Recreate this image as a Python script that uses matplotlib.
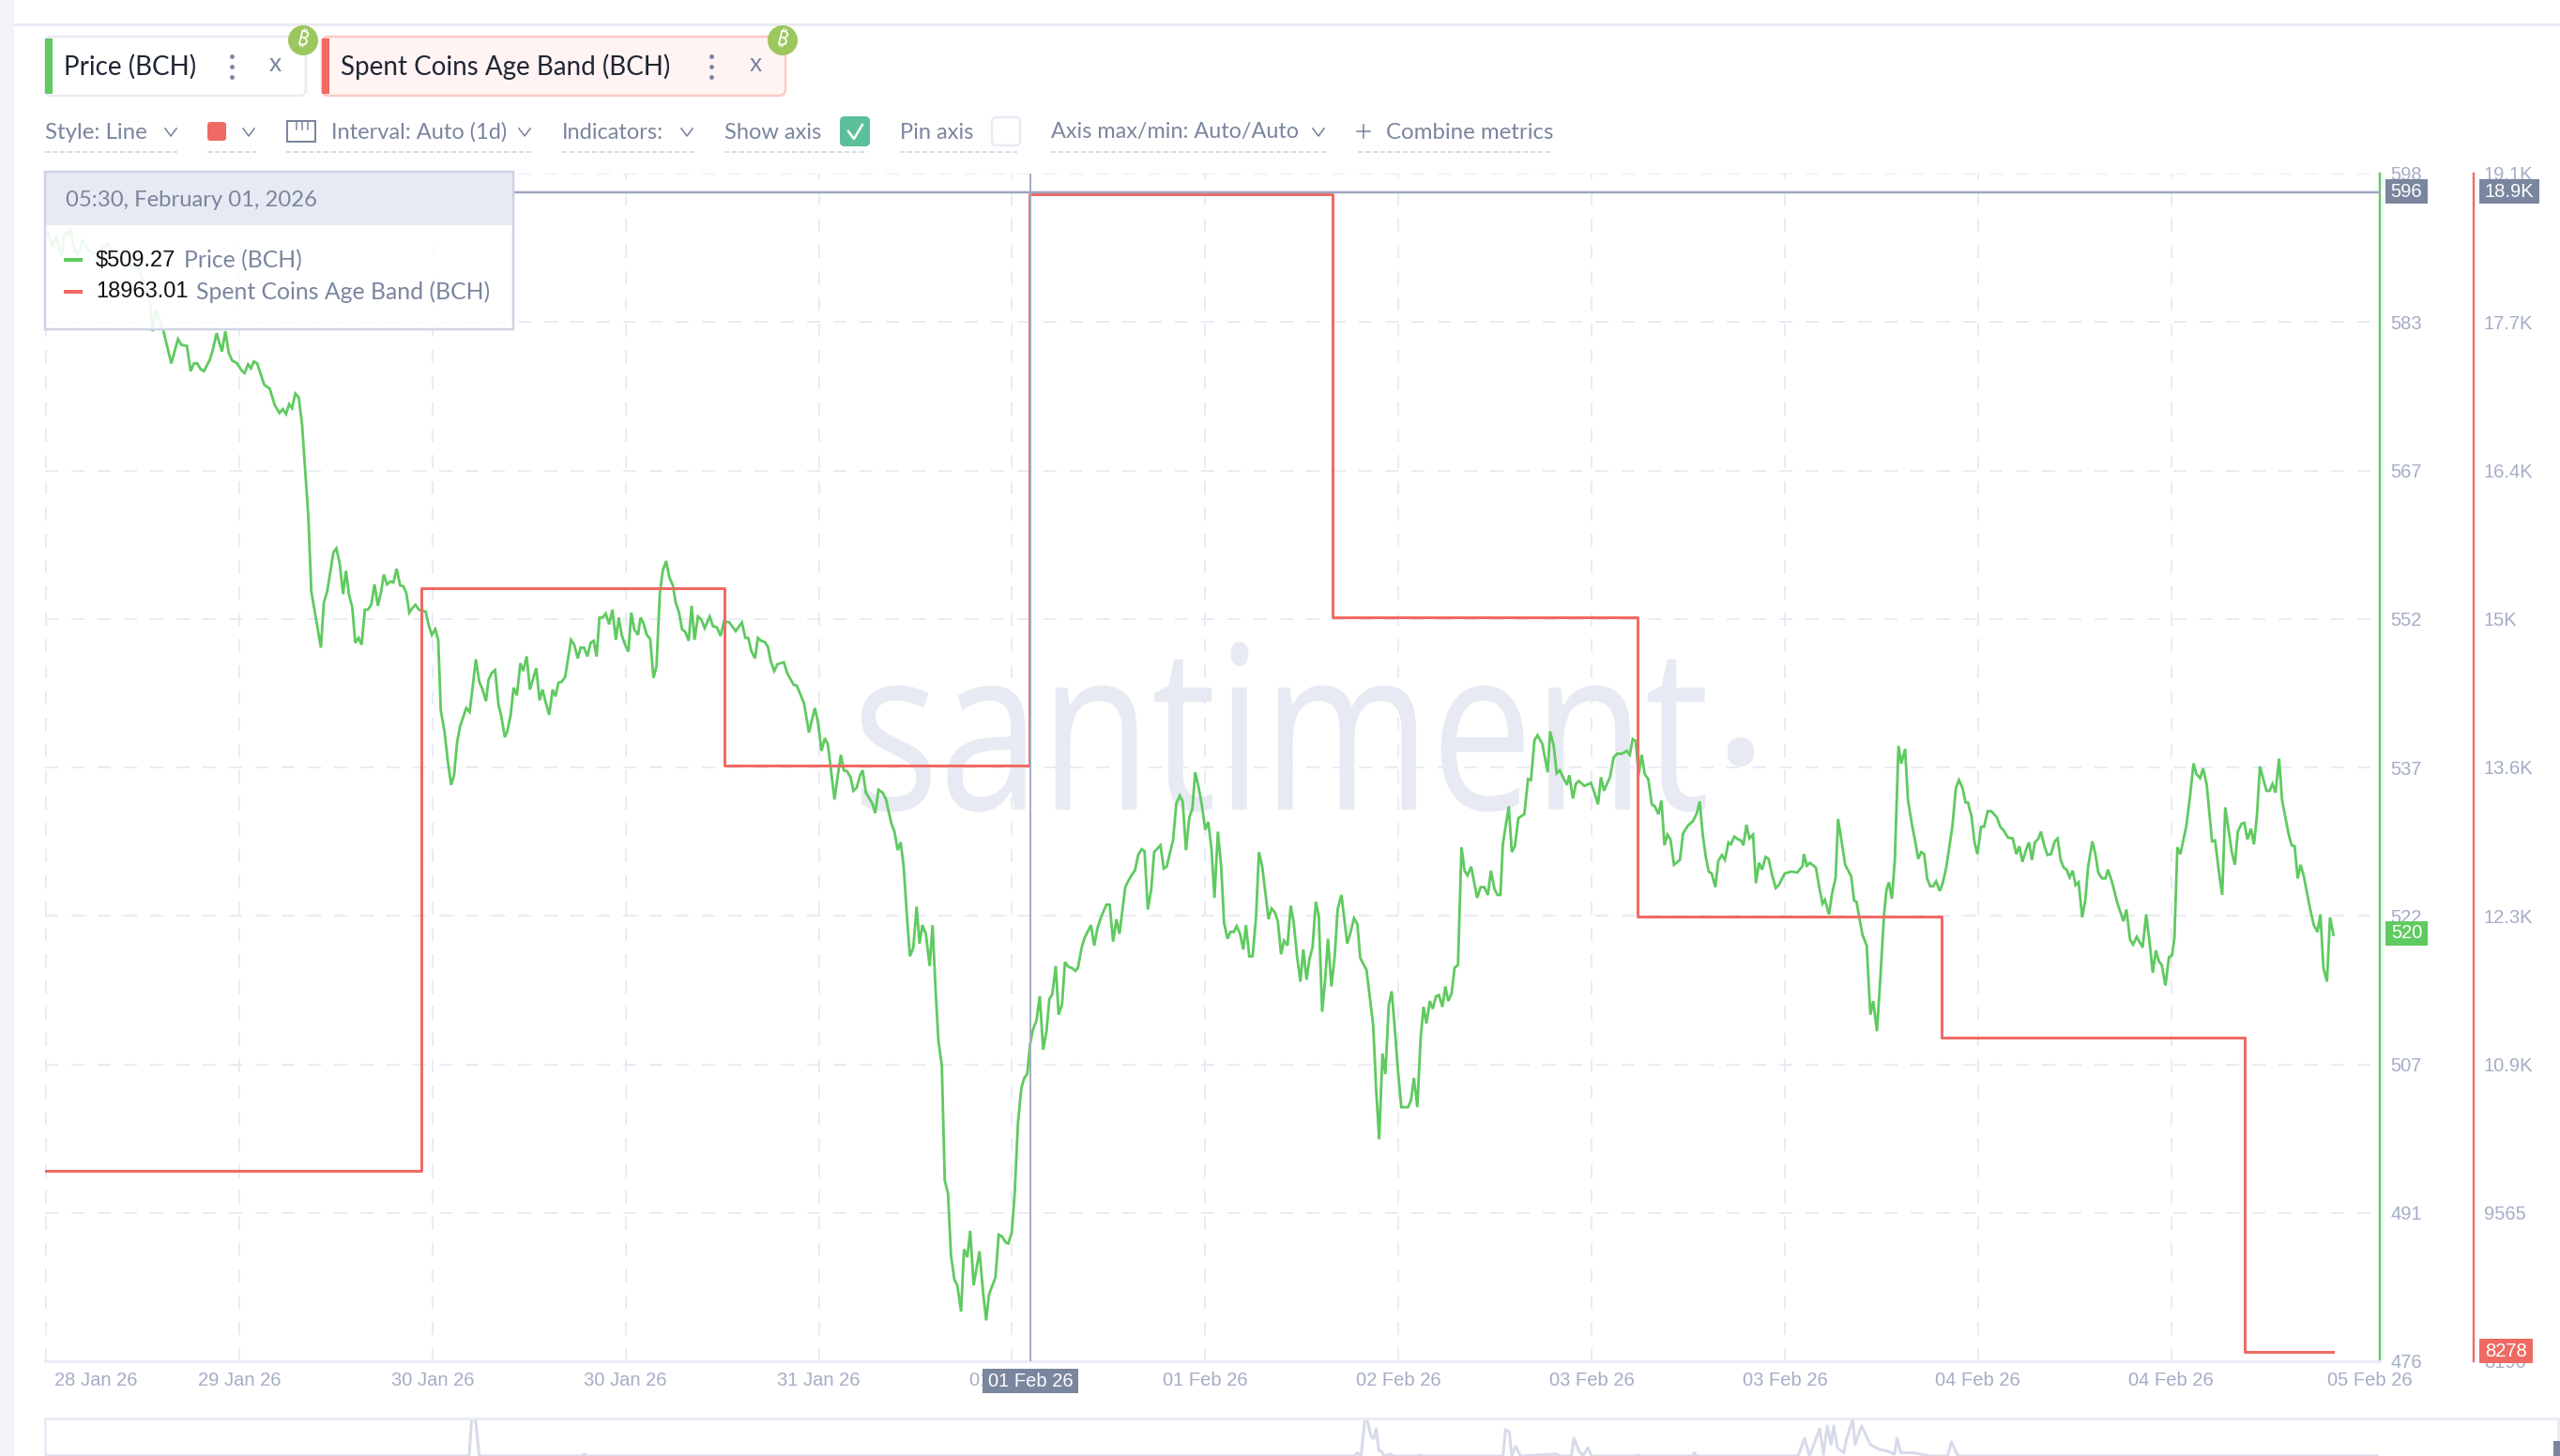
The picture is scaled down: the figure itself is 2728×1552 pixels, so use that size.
import datetime as dt
import numpy as np
import matplotlib
matplotlib.use("Agg")
import matplotlib.pyplot as plt
import matplotlib.dates as mdates
import matplotlib.patheffects as pe
from matplotlib.patches import FancyBboxPatch, Rectangle, Circle
from matplotlib.transforms import Affine2D, ScaledTranslation

# ---------- data (hours after the chart's first tick, USD) ----------
start_time = dt.datetime(2026, 1, 28, 23, 48)
price_points = [
(0.15,591.9),(.53,590.5),(.76,591.6),(1.24,589.5),(1.47,591.9),(1.66,591.7),(1.94,592.2),(2.27,590.1),(2.51,589.7),(2.89,591.1),
(3.36,590.1),(3.69,589.8),(4.16,590.0),(4.87,590.8),(5.35,589.5),(5.82,588.9),(7.33,588.2),(8.18,585.0),(8.42,581.8),(8.65,584.0),(9.22,582.1),
(9.89,578.5),(10.42,581.0),(10.69,580.4),(11.12,580.3),(11.42,577.7),(11.68,578.5),(11.94,578.5),(12.21,577.9),(12.47,577.7),(12.94,578.9),
(13.17,579.9),(13.47,581.6),(13.89,579.7),(14.16,581.8),(14.42,579.6),(14.69,578.8),(15.09,578.5),(15.42,577.8),(15.68,577.5),(15.95,578.4),
(16.18,578.0),(16.41,578.7),(16.67,578.5),(17.23,576.3),(17.66,575.9),(18.06,574.2),(18.43,573.4),(18.69,573.8),(18.95,573.3),(19.19,574.3),
(19.42,573.9),(19.68,575.4),(19.95,575.0),(20.21,572.3),(20.71,562.7),(20.94,555.1),(21.20,553.1),(21.47,551.0),(21.70,549.3),(21.93,553.9),
(22.20,555.1),(22.69,559.1),(22.92,559.5),(23.19,557.9),(23.45,554.8),(23.68,557.2),(23.91,554.8),(24.18,553.4),(24.41,549.8),(24.67,550.3),
(24.91,549.6),(25.17,553.2),(25.40,553.2),(25.67,553.7),(25.93,555.8),(26.20,553.6),(26.46,555.1),(26.66,556.8),(26.92,555.8),(27.19,556.1),
(27.42,556.0),(27.68,557.4),(27.95,555.7),(28.21,555.6),(28.44,554.9),(28.68,552.9),(28.94,553.4),(29.17,553.7),(29.44,553.2),(29.97,553.0),
(30.23,551.5),(30.46,550.6),(30.73,551.2),(30.96,550.1),(31.16,542.9),(31.45,540.7),(31.72,537.6),(31.98,535.2),(32.21,536.2),(32.45,539.6),
(32.68,541.2),(32.94,542.2),(33.17,543.1),(33.44,542.7),(33.70,545.5),(33.93,548.1),(34.20,545.8),(34.46,545.0),(34.73,543.8),(34.93,546.0),
(35.19,546.7),(35.45,547.0),(35.72,543.4),(35.92,542.4),(36.22,540.1),(36.41,540.7),(36.68,542.4),(36.91,545.2),(37.17,544.4),(37.44,547.7),
(37.67,546.9),(37.94,548.4),(38.20,545.0),(38.70,547.2),(38.96,543.9),(39.19,545.0),(39.46,543.6),(39.72,542.4),(39.99,545.0),(40.22,544.3),
(40.45,545.7),(40.71,545.8),(40.98,546.3),(41.21,548.2),(41.44,550.1),(41.70,549.6),(41.97,548.2),(42.20,549.3),(42.47,549.3),(42.73,548.4),
(42.99,549.8),(43.23,550.0),(43.46,548.4),(43.69,552.4),(43.95,552.4),(44.18,552.8),(44.45,551.7),(44.71,553.2),(44.98,550.1),(45.21,552.4),
(45.44,550.6),(45.71,549.6),(45.97,548.9),(46.20,552.9),(46.43,551.2),(46.73,550.6),(46.93,552.4),(47.16,551.8),(47.43,550.6),(47.69,550.2),
(47.95,546.2),(48.19,547.4),(48.45,554.8),(48.68,557.2),(48.95,558.2),(49.21,556.5),(49.48,555.7),(49.71,553.9),(49.97,552.9),(50.20,551.2),
(50.47,550.9),(50.73,550.0),(50.96,553.6),(51.19,550.1),(51.46,552.5),(51.72,552.2),(51.99,551.3),(52.39,552.5),(52.65,551.5),(52.95,551.4),
(53.25,550.5),(53.51,552.0),(53.94,551.9),(54.44,551.0),(54.93,551.9),(55.20,550.3),(55.43,550.3),(55.69,548.9),(55.96,548.2),(56.19,550.3),
(56.45,550.0),(56.72,549.9),(56.98,549.4),(57.21,547.9),(57.48,546.9),(57.74,547.6),(58.24,547.8),(58.50,546.7),(59.00,545.5),(59.26,545.4),
(59.83,543.6),(60.22,540.6),(60.69,543.1),(60.95,541.5),(61.21,538.7),(61.48,540.0),(61.71,539.4),(61.98,536.5),(62.24,533.7),(62.50,536.2),
(62.74,538.3),(62.97,536.7),(63.23,536.6),(63.50,536.0),(63.73,534.6),(63.99,534.9),(64.26,536.2),(64.46,536.7),(64.72,534.4),(64.95,533.9),
(65.22,533.3),(65.45,532.3),(65.71,534.7),(66.04,534.4),(66.31,533.7),(66.54,532.3),(66.74,531.2),(66.97,530.4),(67.23,528.5),(67.46,529.3),
(67.70,526.8),(67.93,522.2),(68.19,517.6),(68.46,518.5),(68.72,522.7),(68.95,518.9),(69.18,520.8),(69.45,519.9),(69.75,516.6),(69.98,520.8),
(70.21,514.3),(70.44,508.9),(70.71,506.4),(70.94,494.6),(71.20,493.2),(71.43,486.9),(71.70,484.4),(71.93,483.8),(72.23,481.1),(72.46,487.5),
(72.72,486.7),(72.95,489.4),(73.22,483.8),(73.68,487.3),(73.98,482.9),(74.21,480.2),(74.44,482.9),(74.94,484.6),(75.20,489.0),(75.47,488.8),
(75.76,488.2),(75.96,488.1),(76.23,489.2),(76.46,493.2),(76.72,500.5),(76.99,504.1),(77.22,505.1),(77.45,505.5),(77.68,508.6),(77.91,510.1),
(78.18,511.0),(78.44,513.5),(78.71,508.0),(78.97,509.9),(79.20,513.2),(79.43,513.7),(79.70,516.6),(79.93,511.6),(80.20,512.7),(80.43,517.0),
(80.72,516.5),(80.99,516.4),(81.25,516.1),(81.45,516.4),(81.75,518.5),(81.98,519.5),(82.48,520.8),(82.74,518.7),(83.00,520.5),(83.27,521.6),
(83.70,522.9),(83.96,522.9),(84.23,519.1),(84.49,521.4),(84.73,519.9),(85.19,524.7),(85.45,525.4),(85.72,526.0),(85.95,526.4),(86.21,528.0),
(86.48,528.6),(86.71,528.4),(86.97,522.4),(87.24,524.5),(87.47,528.3),(87.97,529.0),(88.23,526.6),(88.46,526.8),(88.73,528.3),(88.96,529.5),
(89.22,533.3),(89.49,534.1),(89.72,533.5),(89.98,528.5),(90.25,531.9),(90.48,532.7),(90.71,536.5),(90.97,535.0),(91.24,533.1),(91.50,530.6),
(91.74,531.4),(92.00,528.5),(92.23,523.6),(92.50,530.4),(92.76,526.8),(92.99,521.0),(93.26,519.4),(93.49,520.1),(93.75,520.1),(93.98,520.7),
(94.25,519.9),(94.51,518.3),(94.71,520.8),(94.98,517.6),(95.24,517.6),(95.51,521.6),(95.74,528.3),(96.00,526.8),(96.50,521.4),(96.73,522.5),
(97.00,522.1),(97.23,521.2),(97.49,517.8),(97.72,519.2),(97.99,518.7),(98.25,522.8),(98.48,521.1),(98.75,517.6),(99.01,515.0),(99.24,518.3),
(99.50,515.2),(99.74,517.4),(99.97,518.5),(100.23,523.2),(100.46,521.8),(100.73,511.9),(100.96,515.1),(101.19,519.4),(101.46,514.5),(101.72,517.6),
(101.95,522.4),(102.25,523.9),(102.71,518.9),(102.98,520.1),(103.24,521.5),(103.51,520.9),(103.74,517.4),(104.23,516.2),(104.50,513.3),(104.76,510.5),
(104.99,503.9),(105.23,498.8),(105.49,507.6),(105.72,505.5),(105.99,512.6),(106.22,514.0),(106.48,509.9),(106.71,505.9),(106.98,502.1),(107.51,502.1),
(107.74,502.8),(107.97,505.1),(108.24,502.1),(108.50,509.1),(108.73,512.4),(108.96,510.7),(109.23,513.0),(109.46,512.2),(109.72,513.5),(109.95,513.6),
(110.22,512.4),(110.45,514.5),(110.68,513.0),(110.95,513.8),(111.18,516.4),(111.45,516.7),(111.73,528.8),(111.97,526.4),(112.20,525.9),(112.49,526.8),
(112.96,523.6),(113.24,524.7),(113.53,524.7),(113.81,523.9),(114.05,526.4),(114.33,524.5),(114.57,523.9),(114.80,523.9),(114.99,529.1),(115.46,533.0),
(115.70,528.3),(115.94,528.9),(116.22,531.8),(116.69,532.2),(116.98,535.8),(117.21,535.7),(117.49,539.8),(117.73,540.3),(118.11,539.4),(118.53,536.5),
(118.72,540.7),(119.01,539.2),(119.24,536.4),(119.48,536.7),(120.05,535.2),(120.24,536.2),(120.52,533.8),(120.75,535.3),(120.99,535.6),(121.42,535.1),
(121.94,535.4),(122.22,534.4),(122.50,533.2),(122.74,536.0),(122.97,534.6),(123.45,536.0),(123.73,538.0),(124.01,538.4),(124.39,538.4),(124.77,538.7),
(125.01,538.3),(125.24,539.9),(125.48,539.7),(125.71,536.2),(125.95,538.3),(126.19,536.3),(126.47,535.8),(126.75,533.2),(126.99,533.0),(127.27,532.2),
(127.51,533.6),(127.75,529.0),(127.98,530.1),(128.22,529.6),(128.50,527.0),(128.97,527.5),(129.21,530.2),(129.59,531.0),(130.01,531.5),(130.30,532.3),
(130.53,533.5),(130.77,530.1),(131.01,527.8),(131.24,526.3),(131.48,526.1),(131.76,524.7),(132.00,527.4),(132.28,528.0),(132.52,527.5),(132.80,529.3),
(132.99,529.1),(133.27,529.9),(133.56,529.6),(133.79,529.5),(133.98,529.0),(134.22,531.1),(134.45,529.7),(134.74,530.1),(134.97,525.1),(135.21,527.2),
(135.45,526.5),(135.73,527.8),(135.97,527.6),(136.25,525.9),(136.53,524.6),(136.77,524.9),(137.24,526.1),(137.76,526.3),(138.23,526.2),(138.66,526.9),
(138.75,528.1),(138.99,526.9),(139.23,527.2),(139.70,526.7),(139.98,524.6),(140.22,523.0),(140.41,523.4),(140.74,521.9),(140.97,524.0),(141.26,525.7),
(141.45,531.7),(141.73,529.4),(142.01,527.0),(142.49,525.8),(142.72,523.3),(142.91,523.2),(143.15,521.4),(143.38,519.8),(143.71,518.7),(144.00,511.6),
(144.23,513.0),(144.52,509.9),(144.80,515.6),(145.08,521.9),(145.27,524.4),(145.46,525.2),(145.70,523.5),(145.93,527.5),(146.22,539.2),(146.45,537.4),
(146.74,538.9),(146.97,533.6),(147.30,531.0),(147.54,529.4),(147.78,527.6),(148.01,528.3),(148.25,528.1),(148.48,525.6),(148.72,524.8),(148.96,524.8),
(149.19,525.3),(149.48,524.3),(149.71,525.1),(150.00,526.8),(150.47,530.9),(150.75,534.9),(150.99,535.7),(151.27,534.9),(151.51,533.4),(151.70,533.4),
(151.98,532.0),(152.22,529.3),(152.45,528.1),(152.74,530.9),(152.97,530.9),(153.26,532.5),(153.54,532.5),(153.97,531.9),(154.25,530.9),(154.53,530.5),
(154.86,529.8),(155.24,529.7),(155.52,528.1),(155.76,528.9),(156.00,527.3),(156.28,528.5),(156.52,529.3),(156.75,527.5),(156.99,529.3),(157.27,529.7),
(157.46,530.4),(157.74,528.9),(157.98,528.0),(158.26,528.1),(158.55,529.4),(158.78,529.7),(159.02,527.5),(159.26,526.7),(159.49,526.5),(159.73,525.7),
(159.97,526.4),(160.20,524.9),(160.44,525.2),(160.72,521.6),(160.96,523.3),(161.19,526.8),(161.52,529.4),(161.76,528.1),(161.99,526.2),(162.28,525.6),
(162.56,525.6),(162.75,526.5),(163.03,525.4),(163.22,524.5),(163.51,523.0),(163.98,521.2),(164.21,522.4),(164.50,519.3),(164.74,518.8),(165.02,519.6),
(165.49,518.5),(165.77,521.9),(166.06,518.8),(166.29,515.9),(166.53,518.2),(166.77,517.1),(167.00,516.7),(167.29,514.6),(167.57,517.5),(167.81,517.7),
(168.00,519.5),(168.23,528.8),(168.47,528.1),(168.94,531.0),(169.22,533.9),(169.51,537.4),(169.74,536.3),(170.03,535.9),(170.26,536.9),(170.55,535.2),
(170.78,532.0),(170.97,529.4),(171.21,529.5),(171.49,526.5),(171.77,523.9),(172.01,532.9),(172.29,530.4),(172.53,528.3),(172.77,527.0),(173.00,530.4),
(173.29,531.2),(173.52,531.3),(173.76,529.6),(174.04,530.7),(174.28,529.1),(174.51,532.0),(174.75,537.1),(174.99,535.9),(175.27,534.6),(175.51,534.6),
(175.74,535.3),(175.98,534.4),(176.26,537.9),(176.50,533.6),(176.78,531.7),(177.02,530.1),(177.25,529.0),(177.49,528.9),(177.73,525.6),(177.96,527.0),
(178.20,525.9),(178.48,524.0),(178.72,522.4),(179.00,520.8),(179.29,520.1),(179.52,521.9),(179.76,516.4),(180.04,515.0),(180.28,521.6),(180.56,519.8),
]
band_hours = [0.0, 29.6, 53.55, 77.65, 101.55, 125.65, 149.6, 173.55, 180.5]
band_values = [9949, 15322, 13687, 18963, 15060, 12296, 11179, 8278, 8278]
navigator_points = [
(0,0),(33.4,0),(33.6,100),(33.9,100),(34.2,0),(42.3,0),(42.5,5),(42.7,0),
(103.3,0),(103.5,9),(103.8,0),(104.1,99),(104.3,95),(104.6,52),(104.8,48),(105.0,74),(105.2,14),(105.4,14),(105.6,0),(106.1,5),(106.4,0),
(108.3,0),(108.5,3),(108.7,0),(115.0,0),(115.2,72),(115.5,65),(115.7,0),(116.0,26),(116.4,0),(119.2,5),(119.5,0),(120.4,0),(120.6,48),
(121.0,14),(121.3,0),(121.7,22),(122.0,0),(125.5,0),(125.7,3),(125.9,0),(130.0,0),(130.1,9),(130.3,0),(138.3,0),(138.8,48),(139.2,0),
(140.0,74),(140.3,5),(140.6,82),(140.9,31),(141.1,82),(141.4,22),(141.9,9),(142.1,44),(142.6,99),(142.8,31),(143.3,82),(144.0,31),(144.7,18),
(145.3,14),(145.9,5),(146.1,48),(146.4,9),(147.3,9),(148.0,5),(148.7,0),(150.1,0),(150.4,39),(150.9,0),(184,0),
]
x_tick_hours = [15.25 * k for k in range(13)]
x_tick_labels = ["28 Jan 26", "29 Jan 26", "30 Jan 26", "30 Jan 26", "31 Jan 26", "01 Feb 26", "01 Feb 26",
                 "02 Feb 26", "03 Feb 26", "03 Feb 26", "04 Feb 26", "04 Feb 26", "05 Feb 26"]
price_ticks = [598, 582.75, 567.5, 552.25, 537, 521.75, 506.5, 491.25, 476]
price_tick_labels = ["598", "583", "567", "552", "537", "522", "507", "491", "476"]
band_ticks = [19153, 17783, 16413, 15043, 13672, 12302, 10932, 9561, 8191]
band_tick_labels = ["19.1K", "17.7K", "16.4K", "15K", "13.6K", "12.3K", "10.9K", "9565", "8190"]
cross_time = dt.datetime(2026, 2, 1, 5, 30)

# ---------- style ----------
W, H = 2728, 1552
GREEN, RED = "#5fca60", "#ef6a63"
GRID, SLATE, TICK = "#e9ebf4", "#7a859e", "#a4adc6"
UI_FONT = "Lato"
TICK_FONT = "Liberation Sans"
TICK_SIZE = 14.5
plt.rcParams["lines.scale_dashes"] = False
px = 72 / 100


class Squeeze(pe.AbstractPathEffect):
    """Narrow a text horizontally about a pixel position, as the reference's watermark is narrow."""

    def __init__(self, sx, x0):
        super().__init__()
        self.sx, self.x0 = sx, x0

    def draw_path(self, renderer, gc, tpath, affine, rgbFace=None):
        t = affine + Affine2D().translate(-self.x0, 0).scale(self.sx, 1).translate(self.x0, 0)
        renderer.draw_path(gc, tpath, t, rgbFace)


def to_date(hours):
    return [mdates.date2num(start_time + dt.timedelta(hours=float(h))) for h in hours]


fig = plt.figure(figsize=(W / 100, H / 100), dpi=100, facecolor="white")
L, R, T, B = 48, 2536, 185, 1451
ax = fig.add_axes([L / W, 1 - B / H, (R - L) / W, (B - T) / H], zorder=1)
ax.patch.set_alpha(0)
x_left = to_date([(L - 49) * 0.07407])[0]
x_right = to_date([(R - 49) * 0.07407])[0]
ax.set_xlim(x_left, x_right)
ax.set_ylim(476, 598)

dash = (0, (14 * px, 14 * px))
for s in ["top", "left"]:
    ax.spines[s].set_visible(False)
ax.spines["bottom"].set_color(GRID)
ax.spines["bottom"].set_linewidth(3 * px)
ax.spines["right"].set_color(GREEN)
ax.spines["right"].set_linewidth(2.4 * px)
ax.xaxis.set_ticks(to_date(x_tick_hours), x_tick_labels)
ax.tick_params(axis="x", length=0, pad=11 * px, labelsize=TICK_SIZE, labelcolor=TICK)
for lab in ax.get_xticklabels():
    lab.set_fontfamily(TICK_FONT)
xl = ax.get_xticklabels()
xl[0].set_ha("left")
xl[0].set_transform(xl[0].get_transform() + ScaledTranslation(9 / 100, 0, fig.dpi_scale_trans))
xl[-1].set_transform(xl[-1].get_transform() + ScaledTranslation(6 / 100, 0, fig.dpi_scale_trans))
for p in price_ticks[:-1]:
    ax.axhline(p, color=GRID, lw=2 * px, ls=dash, zorder=1, xmax=0.996)
for t in to_date(x_tick_hours[:-1]):
    ax.axvline(t, color=GRID, lw=2 * px, ls=dash, zorder=1)

hours = [p[0] for p in price_points]
prices = [p[1] for p in price_points]
ax.plot(to_date(hours), prices, color=GREEN, lw=2.8 * px, zorder=3, solid_joinstyle="miter")

ax2 = ax.twinx()
ax2.set_zorder(2)
ax2.patch.set_alpha(0)
ax2.set_ylim(8191, 19153)
for s in ["top", "left", "bottom"]:
    ax2.spines[s].set_visible(False)
ax2.spines["right"].set_position(("outward", 100 * px))
ax2.spines["right"].set_color(RED)
ax2.spines["right"].set_linewidth(2.4 * px)
ax2.yaxis.set_ticks(band_ticks, band_tick_labels)
ax2.tick_params(axis="y", length=0, pad=11 * px, labelsize=TICK_SIZE, labelcolor=TICK)
for lab in ax2.get_yticklabels():
    lab.set_fontfamily(TICK_FONT)
ax2.step(to_date(band_hours), band_values, where="post", color=RED, lw=3 * px, zorder=4)
ax2.axvline(mdates.date2num(cross_time), color="#a3abc4", lw=2 * px, zorder=5)

# the price axis labels sit on the right, next to its green line
ax.yaxis.tick_right()
ax.yaxis.set_ticks(price_ticks, price_tick_labels)
ax.tick_params(axis="y", length=0, pad=11 * px, labelsize=TICK_SIZE, labelcolor=TICK)
for lab in ax.get_yticklabels():
    lab.set_fontfamily(TICK_FONT)

# watermark
mark = ax.text(908 / W, 1 - 863 / H, "santiment", transform=fig.transFigure, fontsize=175, color="#e7eaf2",
               family="Open Sans", ha="left", va="baseline", zorder=0.5)
fig.canvas.draw()
mark_box = mark.get_window_extent()
mark.set_path_effects([Squeeze((1822 - 908) / mark_box.width, mark_box.x0)])
ax.text(1854 / W, 1 - 822 / H, "\u00b7", transform=fig.transFigure, fontsize=175, color="#e7eaf2",
        family="Open Sans", ha="center", va="center", zorder=0.5)

# navigator
nav = fig.add_axes([48 / W, 0, (2726 - 48) / W, 40 / H], zorder=1)
nav.set_xlim(x_left, to_date([(2726 - 49) * 0.07407])[0])
nav.set_ylim(0, 102)
nav.set_xticks([])
nav.set_yticks([])
nav.spines["bottom"].set_visible(False)
for s in ["top", "left", "right"]:
    nav.spines[s].set_color(GRID)
    nav.spines[s].set_linewidth(3 * px)
nav.plot(to_date([p[0] for p in navigator_points]), [p[1] for p in navigator_points], color="#d6daea", lw=3 * px)

# ---------- interface overlay, in picture pixels ----------
ui = fig.add_axes([0, 0, 1, 1], zorder=5)
ui.patch.set_alpha(0)
ui.set_xlim(0, W)
ui.set_ylim(H, 0)
ui.axis("off")


def txt(x, y, s, color=SLATE, size=17, ha="left", family=UI_FONT, **kw):
    ui.text(x, y, s, color=color, fontsize=size, ha=ha, va="center", family=family, **kw)


def rect(x0, y0, x1, y1, fc, ec="none", lw=0, alpha=None, z=2):
    ui.add_patch(Rectangle((x0, y0), x1 - x0, y1 - y0, fc=fc, ec=ec, lw=lw * px, alpha=alpha, zorder=z))


def rrect(x0, y0, x1, y1, fc, ec="none", lw=0, r=6, z=2):
    ui.add_patch(FancyBboxPatch((x0 + r, y0 + r), x1 - x0 - 2 * r, y1 - y0 - 2 * r,
                                boxstyle=f"round,pad={r},rounding_size={r}", fc=fc, ec=ec, lw=lw * px, zorder=z))


def chevron(x, y):
    ui.plot([x - 6, x, x + 6], [y - 4, y + 4, y - 4], color=SLATE, lw=1.6 * px)


def underline(x0, x1):
    ui.plot([x0, x1], [162, 162], color="#d9dcea", lw=2 * px, ls=(0, (5 * px, 3 * px)))


# page edge
rect(0, 0, 15, H, "#f2f3f9")
ui.plot([15, W], [26, 26], color=GRID, lw=3 * px)

# metric chips
rrect(48, 39, 326, 102, "white", GRID, 2.5, r=7)
rrect(343, 39, 837, 102, "#fff4f3", "#fbc9c6", 2.5, r=7)
rect(48, 41, 56, 100, GREEN, z=3)
rect(343, 41, 351, 100, RED, z=3)
txt(68, 71, "Price (BCH)", "#1f2533", 20)
txt(363, 71, "Spent Coins Age Band (BCH)", "#1f2533", 20)
coin_fonts = ["Noto Sans", "Roboto", "Inter", "Open Sans", "Lato", "Noto Sans CJK SC", "DejaVu Sans"]
for cx, dots, close in [(323, 247, 293), (834, 758, 805)]:
    ui.add_patch(Circle((cx, 43), 16, fc="#9cc65e", ec="none", zorder=4))
    ui.text(cx, 43, "\u20bf", color="white", fontsize=15, fontweight="bold", rotation=-14,
            ha="center", va="center", family=coin_fonts, zorder=5)
    ui.scatter([dots] * 3, [60, 71, 82], s=6, color=SLATE, zorder=4)
    txt(close, 69, "x", SLATE, 19, ha="center")

# toolbar
TY = 141
txt(48, TY, "Style: Line", size=17.3)
chevron(182, 141)
underline(48, 189)
rrect(221, 130, 241, 150, RED, r=3)
chevron(265, 141)
underline(221, 273)
rect(306, 129, 336, 151, "white", SLATE, 2)
for ix in (316, 322, 328):
    ui.plot([ix, ix], [129, 138], color=SLATE, lw=1.5 * px, zorder=3)
txt(353, TY, "Interval: Auto (1d)")
chevron(559, 141)
underline(305, 567)
txt(599, TY, "Indicators:")
chevron(732, 141)
underline(599, 740)
txt(772, TY, "Show axis")
rrect(895, 124, 927, 156, "#5bc09a", r=5)
ui.plot([904, 910, 919], [140, 148, 133], color="white", lw=2.5 * px, zorder=4)
underline(772, 925)
txt(959, TY, "Pin axis")
rrect(1057, 125, 1087, 155, "white", GRID, 2.5, r=5)
underline(959, 1085)
txt(1120, TY, "Axis max/min: Auto/Auto", size=16.8)
chevron(1405, 141)
underline(1120, 1413)
ui.plot([1446, 1460], [140, 140], color=SLATE, lw=1.6 * px)
ui.plot([1453, 1453], [133, 147], color=SLATE, lw=1.6 * px)
txt(1477, TY, "Combine metrics", size=17.3)
underline(1447, 1655)

# crosshair and value boxes
ui.plot([547, R], [205, 205], color="#9ea6c0", lw=2.5 * px, zorder=1.5)
for x0, x1, y0, y1, fc, s in [(2542, 2587, 191, 217, SLATE, "596"), (2642, 2706, 191, 217, SLATE, "18.9K"),
                              (2542, 2587, 982, 1008, GREEN, "520"), (2642, 2699, 1427, 1453, RED, "8278")]:
    rect(x0, y0, x1, y1, fc)
    ui.text((x0 + x1) / 2, (y0 + y1) / 2, s, color="white", fontsize=TICK_SIZE, ha="center", va="center",
            family=TICK_FONT, zorder=3)
rect(1047, 1459, 1149, 1485, SLATE)
ui.text(1098, 1472, "01 Feb 26", color="white", fontsize=TICK_SIZE, ha="center", va="center",
        family=TICK_FONT, zorder=3)

# tooltip
rect(48, 183, 547, 351, "white", alpha=0.9, z=6)
rect(48, 183, 547, 240, "#e7eaf2", z=7)
rect(48, 183, 547, 351, "none", "#cfd3e4", 2.5, z=8)
ui.text(70, 213, "05:30, February 01, 2026", color=SLATE, fontsize=17.2, va="center", family=UI_FONT, zorder=9)
ui.plot([70, 86], [277, 277], color=GREEN, lw=4 * px, zorder=9)
ui.plot([70, 86], [311, 311], color=RED, lw=4 * px, zorder=9)
for x, y, s, c, fam, sz in [(102, 278, "$509.27", "#111111", TICK_FONT, 17), (196, 278, "Price (BCH)", SLATE, UI_FONT, 17.8),
                            (102, 311, "18963.01", "#111111", TICK_FONT, 17),
                            (209, 311, "Spent Coins Age Band (BCH)", SLATE, UI_FONT, 17.8)]:
    ui.text(x, y, s, color=c, fontsize=sz, va="center", family=fam, zorder=9)

# navigator handle
rect(2721, 1536, W, H, SLATE)

fig.savefig("out.png", dpi=100)
